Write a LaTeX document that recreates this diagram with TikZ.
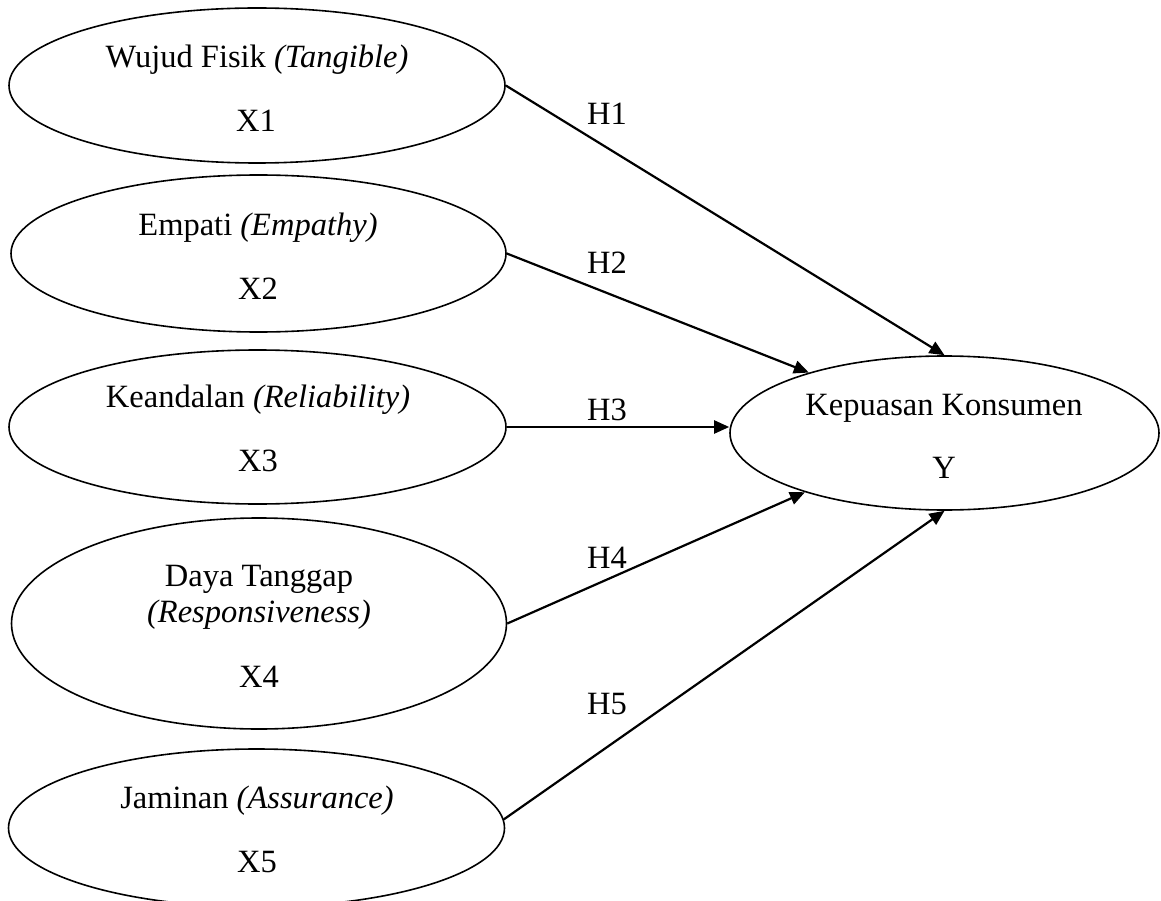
\documentclass[tikz,border=0pt]{standalone}
\usepackage{fontspec}
\setmainfont{Liberation Serif}
\usetikzlibrary{arrows.meta,shapes.geometric}
\begin{document}
\begin{tikzpicture}[x=1pt,y=-1pt,
  var/.style={draw=black,line width=1.6pt,ellipse,inner sep=0pt,minimum width=#1},
  txt/.style={anchor=base,inner sep=0pt,font=\fontsize{32.5}{38}\selectfont},
  conn/.style={draw=black,line width=2.2pt,-{Triangle[length=15pt,width=13pt]}},
  hlab/.style={anchor=base,inner sep=0pt,font=\fontsize{32.5}{38}\selectfont}]
\clip (0,0) rectangle (1161,901);
\fill[white] (0,0) rectangle (1161,901);
% variables
\node[var=496pt,minimum height=155pt] (e1) at (257,85.5) {};
\node[var=495pt,minimum height=157pt] (e2) at (258.5,253.5) {};
\node[var=497pt,minimum height=154pt] (e3) at (257.5,427) {};
\node[var=495pt,minimum height=211pt] (e4) at (259,623.5) {};
\node[var=496pt,minimum height=158pt] (e5) at (256.5,828) {};
\node[var=429pt,minimum height=154pt] (y) at (944.5,433) {};
% texts
\node[txt] (t1a) at (257,68) {Wujud Fisik \textit{(Tangible)}};
\node[txt] (t1b) at (256,132) {X1};
\node[txt] (t2a) at (258,236) {Empati \textit{(Empathy)}};
\node[txt] (t2b) at (258,299) {X2};
\node[txt] (t3a) at (258,407) {Keandalan \textit{(Reliability)}};
\node[txt] (t3b) at (258,471) {X3};
\node[txt] (t4a) at (259,586) {Daya Tanggap};
\node[txt] (t4b) at (259,622) {\textit{(Responsiveness)}};
\node[txt] (t4c) at (259,687) {X4};
\node[txt] (t5a) at (257,808) {Jaminan \textit{(Assurance)}};
\node[txt] (t5b) at (257,872) {X5};
\node[txt] (tya) at (944,415) {Kepuasan Konsumen};
\node[txt] (tyb) at (944,478) {Y};
% connectors
\draw[conn] (e1.east) -- (y.north);
\draw[conn] (e2.east) -- (y.156);
\draw[conn] (e3.east) -- (e3.east -| y.west);
\draw[conn] (e4.east) -- (y.203);
\draw[conn] (e5.2) -- (y.south);
% hypothesis labels
\node[hlab] (h1) at (607,125) {H1};
\node[hlab] (h2) at (607,273) {H2};
\node[hlab] (h3) at (607,420) {H3};
\node[hlab] (h4) at (607,568) {H4};
\node[hlab] (h5) at (607,714) {H5};
\end{tikzpicture}
\end{document}
